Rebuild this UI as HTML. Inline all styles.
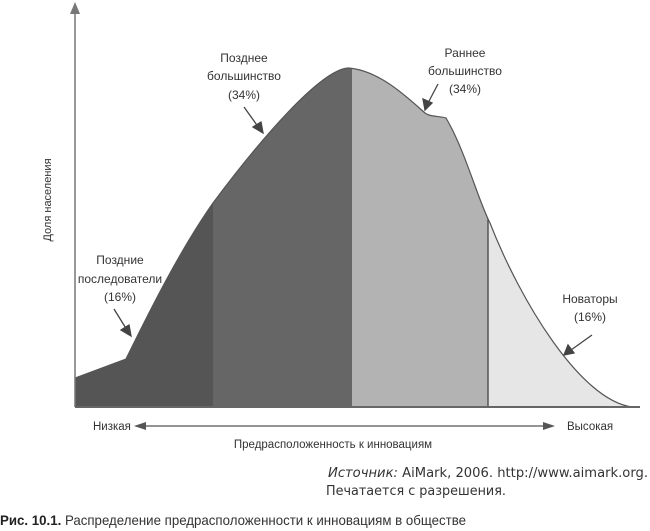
<!DOCTYPE html>
<html><head><meta charset="utf-8"><style>
html,body{margin:0;padding:0;background:#fff;}
svg{display:block;}
text{font-family:"Liberation Sans Narrow","Liberation Sans",sans-serif;fill:#333;}
</style></head><body>
<svg width="650" height="531" viewBox="0 0 650 531" xmlns="http://www.w3.org/2000/svg">
<defs>
<clipPath id="c"><path d="M75,378 L126,359 C150,310 180,250 213,203 C260,140 320,70 348,68 C380,70 410,100 425,113 C430,117 440,116 446,118 C465,150 478,200 490,223 C520,300 580,400 632,407 L75,407 Z"/></clipPath>
</defs>
<g clip-path="url(#c)">
<rect x="75" y="0" width="138" height="410" fill="#555"/>
<rect x="213" y="0" width="139" height="410" fill="#666"/>
<rect x="352" y="0" width="136" height="410" fill="#b3b3b3"/>
<rect x="488" y="0" width="160" height="410" fill="#e6e6e6"/>
<line x1="488" y1="0" x2="488" y2="410" stroke="#555" stroke-width="1.5"/>
</g>
<path d="M75,378 L126,359 C150,310 180,250 213,203 C260,140 320,70 348,68 C380,70 410,100 425,113 C430,117 440,116 446,118 C465,150 478,200 490,223 C520,300 580,400 632,407" fill="none" stroke="#555" stroke-width="1.2"/>
<!-- axes -->
<line x1="75" y1="12" x2="75" y2="407" stroke="#777" stroke-width="1.5"/>
<polygon points="70,14 75,2 80,14" fill="#777"/>
<line x1="75" y1="407" x2="640" y2="407" stroke="#666" stroke-width="2"/>
<!-- annotation arrows -->
<g stroke="#444" stroke-width="1.3" fill="#444">
<line x1="244" y1="107" x2="259" y2="128"/><polygon points="263,133 253,127 261,122"/>
<line x1="438" y1="84" x2="428" y2="103"/><polygon points="425,110 423,99 432,103"/>
<line x1="114" y1="309" x2="127" y2="330"/><polygon points="131,336 121,330 129,325"/>
<line x1="592" y1="335" x2="571" y2="350"/><polygon points="564,355 568,345 574,353"/>
</g>
<g font-size="12" text-anchor="middle">
<text x="244" y="62">Позднее</text><text x="244" y="80">большинство</text><text x="244" y="99">(34%)</text>
<text x="465" y="57">Раннее</text><text x="465" y="75">большинство</text><text x="465" y="93">(34%)</text>
<text x="120" y="264">Поздние</text><text x="120" y="283">последователи</text><text x="120" y="301">(16%)</text>
<text x="590" y="303">Новаторы</text><text x="590" y="321">(16%)</text>
</g>
<text font-size="11" transform="translate(51,200) rotate(-90)" text-anchor="middle">Доля населения</text>
<!-- bottom axis -->
<text x="93" y="430" font-size="11.5">Низкая</text>
<text x="567" y="430" font-size="11.5">Высокая</text>
<line x1="140" y1="426" x2="548" y2="426" stroke="#555" stroke-width="1.2"/>
<polygon points="134,426 146,422 146,430" fill="#555"/>
<polygon points="555,426 543,422 543,430" fill="#555"/>
<text x="333" y="448" font-size="11.5" text-anchor="middle">Предрасположенность к инновациям</text>
<text x="648" y="477" font-size="13" text-anchor="end" style="font-family:'DejaVu Sans','Liberation Sans',sans-serif" textLength="320" lengthAdjust="spacingAndGlyphs"><tspan font-style="italic">Источник:</tspan> AiMark, 2006. http://www.aimark.org.</text>
<text x="326" y="495" font-size="13" style="font-family:'DejaVu Sans','Liberation Sans',sans-serif" textLength="180" lengthAdjust="spacingAndGlyphs">Печатается с разрешения.</text>
<text x="0" y="525" font-size="14" textLength="466" lengthAdjust="spacingAndGlyphs"><tspan font-weight="bold" fill="#222">Рис. 10.1.</tspan>  Распределение предрасположенности к инновациям в обществе</text>
</svg>
</body></html>
